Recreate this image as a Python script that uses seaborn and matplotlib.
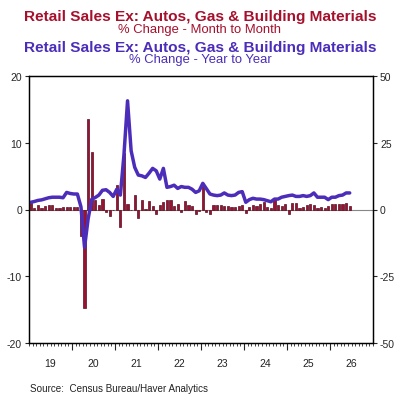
import numpy as np
import pandas as pd
import matplotlib
matplotlib.use("Agg")
import matplotlib.pyplot as plt
from matplotlib.ticker import MultipleLocator, FixedLocator
import seaborn as sns

sns.set_style("white")
plt.rcParams['font.family'] = ['Liberation Sans', 'DejaVu Sans']
plt.rcParams['axes.unicode_minus'] = False

# monthly data, Jan 2019 .. Jun 2026
mom = [1.0, 0.2, 0.7, 0.2, 0.5, 0.6, 0.6, 0.2, 0.15, 0.3, 0.35, 0.3,
       0.3, 0.3, -4.0, -14.7, 13.6, 8.6, 1.4, 0.7, 1.6, -0.3, -0.9, -0.1,
       3.6, -2.6, 8.5, 0.8, -0.1, 2.2, -1.3, 1.4, 0.1, 1.2, 0.5, -0.7,
       0.65, 1.05, 1.45, 1.45, 0.55, 0.8, -0.35, 1.2, 0.6, 0.5, -0.7, -0.2,
       3.5, -0.3, -0.7, 0.7, 0.7, 0.7, 0.5, 0.5, 0.3, 0.3, 0.5, 0.6,
       -0.5, 0.3, 0.7, 0.5, 0.8, 1.1, 0.3, 0.2, 1.6, 0.6, 0.5, 0.8,
       -0.7, 1.0, 0.9, 0.2, 0.3, 0.7, 0.8, 0.7, 0.2, 0.3, 0.2, 0.5,
       0.8, 0.8, 0.8, 0.8, 0.9, 0.5]
yoy = [2.7, 3.0, 3.4, 3.6, 4.0, 4.4, 4.6, 4.6, 4.6, 4.4, 6.4, 6.0,
       5.8, 5.8, 1.0, -14.2, -3.5, 3.8, 4.5, 5.4, 7.2, 7.4, 6.4, 4.9,
       7.6, 5.4, 20.5, 40.7, 22.0, 15.8, 12.9, 12.6, 12.0, 13.6, 15.4, 14.5,
       11.4, 15.4, 8.3, 8.6, 9.1, 7.9, 8.6, 8.3, 8.3, 7.6, 6.4, 7.0,
       9.8, 7.8, 5.8, 5.4, 5.2, 5.4, 6.2, 5.4, 5.2, 5.4, 6.4, 6.7,
       2.7, 3.7, 4.2, 3.9, 3.9, 3.7, 3.3, 2.9, 3.9, 3.9, 4.6, 4.9,
       5.2, 5.4, 4.9, 4.9, 5.2, 4.9, 5.2, 6.2, 4.6, 4.6, 4.6, 3.7,
       4.6, 4.6, 5.2, 5.4, 6.2, 6.2]
years = list(range(2019, 2027))
year_labels = ['19', '20', '21', '22', '23', '24', '25', '26']

t = 2019 + (np.arange(len(mom)) + 0.5) / 12
df = pd.DataFrame({'t': np.round(t, 4), 'mom': mom, 'yoy': yoy})

RED = '#A5102C'
BLUE = '#4B2DBA'

fig = plt.figure(figsize=(4.0, 4.02), dpi=100)
ax = fig.add_axes([29/400, 58/402, 344/400, 267/402])

sns.barplot(data=df, x='t', y='mom', native_scale=True, width=0.6,
            color='#9A1232', edgecolor='#5A0A1E', linewidth=0.5,
            errorbar=None, saturation=1, ax=ax)
ax.axhline(0, color='#888888', lw=0.8, zorder=0.5)
ax.set_xlim(2019.0, 2027.0)
ax.set_ylim(-20, 20)
ax.set_yticks([-20, -10, 0, 10, 20])
ax.set_xlabel('')
ax.set_ylabel('')

ax2 = ax.twinx()
sns.lineplot(data=df, x='t', y='yoy', color=BLUE, lw=2.5, ax=ax2)
ax2.set_ylim(-50, 50)
ax2.set_yticks([-50, -25, 0, 25, 50])
ax2.set_ylabel('')
ax2.set_xlim(2019.0, 2027.0)

ax.xaxis.set_major_locator(FixedLocator(years[1:]))
ax.xaxis.set_minor_locator(MultipleLocator(1/12))
ax.set_xticklabels([])
ax.tick_params(axis='x', which='major', length=5, width=0.8, direction='out', bottom=True)
ax.tick_params(axis='x', which='minor', length=2.5, width=0.6, direction='out', bottom=True)
ax.tick_params(axis='y', length=3, width=0.8, direction='out', left=True, labelsize=7.5, pad=2)
ax2.tick_params(axis='y', length=3, width=0.8, direction='out', right=True, labelsize=7.5, pad=2)

for a in (ax, ax2):
    for s in a.spines.values():
        s.set_color('black')
        s.set_linewidth(0.9)

for y, lab in zip(years, year_labels):
    ax.text(y + 0.5, -0.075, lab, transform=ax.get_xaxis_transform(),
            ha='center', va='center', fontsize=7.5, color='#222222')

title = 'Retail Sales Ex: Autos, Gas & Building Materials'
fig.text(0.5, 1 - 21/402, title, ha='center', va='baseline',
         fontsize=11.1, fontweight='bold', color=RED)
fig.text(0.5, 1 - 33/402, '% Change - Month to Month', ha='center', va='baseline',
         fontsize=9.4, color=RED)
fig.text(0.5, 1 - 52/402, title, ha='center', va='baseline',
         fontsize=11.1, fontweight='bold', color=BLUE)
fig.text(0.5, 1 - 63/402, '% Change - Year to Year', ha='center', va='baseline',
         fontsize=9.4, color=BLUE)
fig.text(30/400, 1 - 392/402, 'Source:  Census Bureau/Haver Analytics',
         ha='left', va='baseline', fontsize=7.1, color='#222222')

plt.savefig('out.png', dpi=100)
plt.close()
